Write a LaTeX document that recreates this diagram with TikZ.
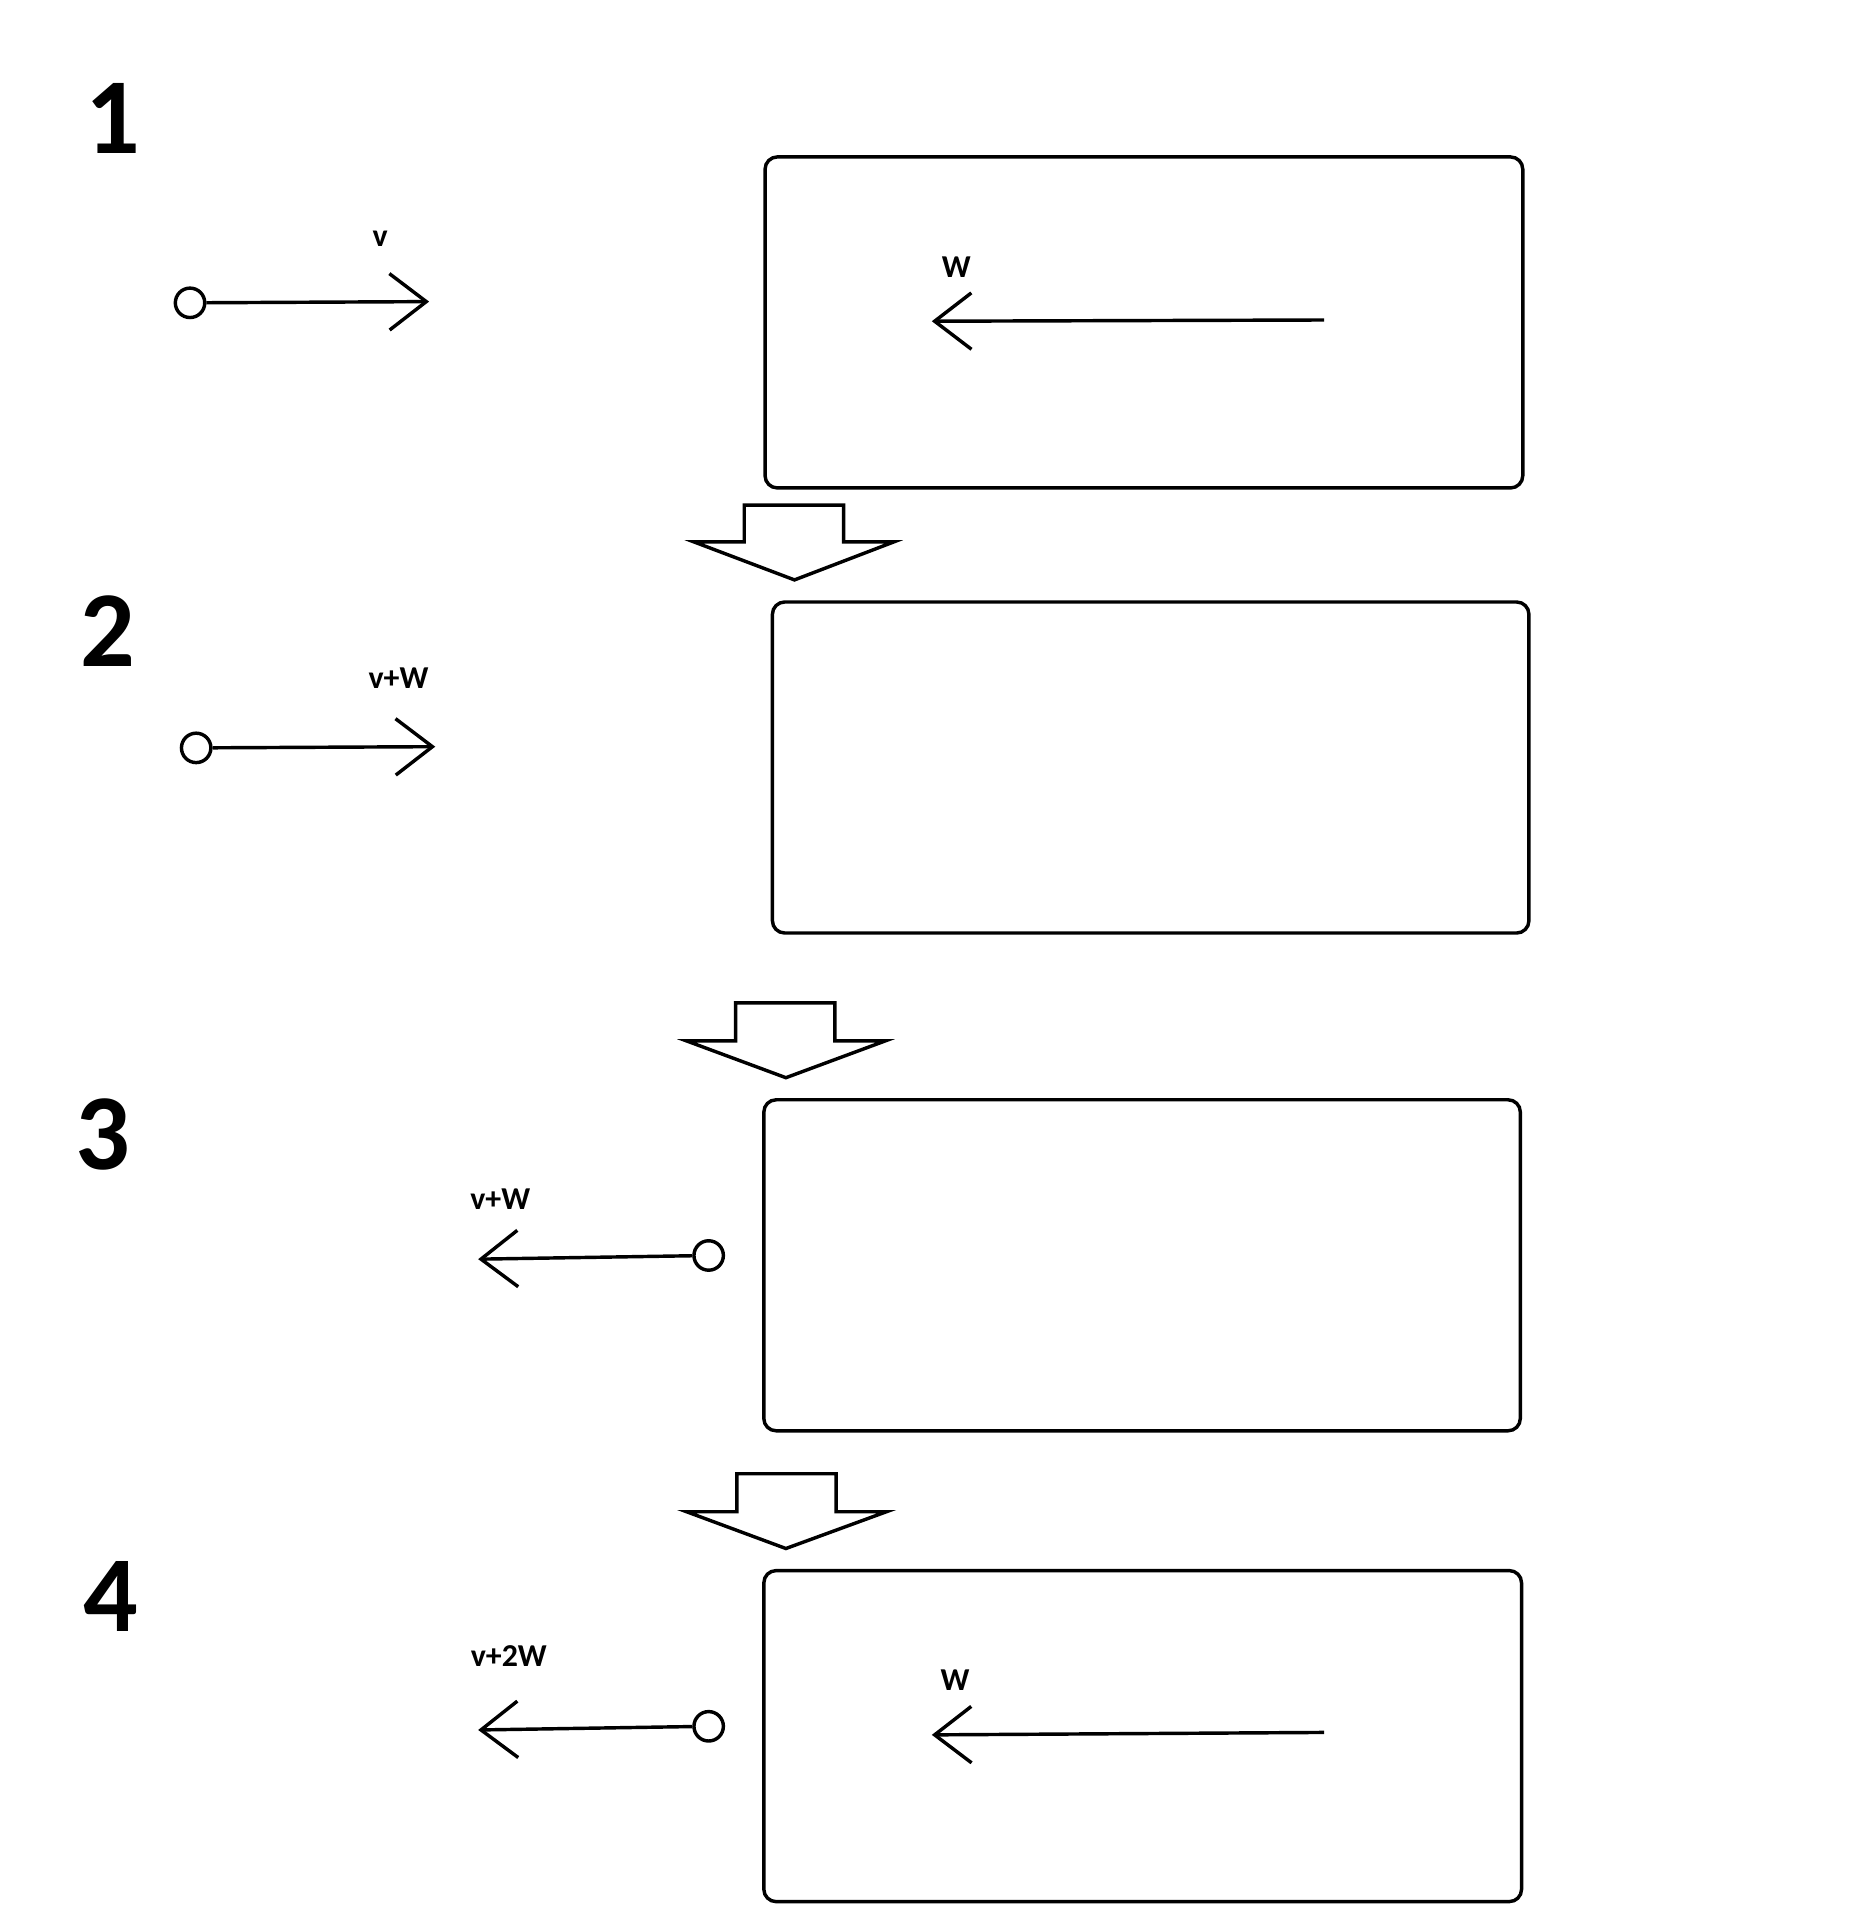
\documentclass[tikz,border=0pt]{standalone}
\usepackage{fontspec}
\setmainfont{Carlito}
\usetikzlibrary{arrows.meta}
\begin{document}
\begin{tikzpicture}[x=0.5pt,y=-0.5pt,line width=1.4pt,
  box/.style={draw,rounded corners=5pt},
  num/.style={font=\bfseries\fontsize{44}{50}\selectfont},
  lab/.style={font=\bfseries\fontsize{13}{15}\selectfont},
  pin/.style={draw,circle,minimum size=12pt,inner sep=0pt},
  vec/.style={-{Straight Barb[length=15pt,width=23pt,line width=1.4pt]}},
  blk/.style={draw,line width=1.4pt,line join=miter}]
\useasboundingbox (0,0) rectangle (1530,1566);
\node[num] (n1) at (92,97) {1};
\node[num] (n2) at (88,515) {2};
\node[num] (n3) at (84,925) {3};
\node[num] (n4) at (90,1302) {4};
\draw[box] (624,128) rectangle (1242,398);
\draw[box] (630,491) rectangle (1247,761);
\draw[box] (623,897) rectangle (1240,1167);
\draw[box] (623,1281) rectangle (1241,1551);
% v arrows
\node[pin] (p1) at (155,247) {};
\coordinate (e1) at (350,246);
\draw[vec] (p1) -- (e1);
\node[lab] (l1) at (310,195) {v};
\node[pin] (p2) at (160,610) {};
\coordinate (e2) at (355,609);
\draw[vec] (p2) -- (e2);
\node[lab] (l2) at (325,553) {v+W};
\node[pin] (p3) at (578,1024) {};
\coordinate (e3) at (390,1027);
\draw[vec] (p3) -- (e3);
\node[lab] (l3) at (408,978) {v+W};
\node[pin] (p4) at (578,1408) {};
\coordinate (e4) at (390,1411);
\draw[vec] (p4) -- (e4);
\node[lab] (l4) at (415,1351) {v+2W};
% W arrows
\coordinate (w1s) at (1080,261); \coordinate (w1e) at (760,262);
\draw[vec] (w1s) -- (w1e);
\node[lab] (lw1) at (780,218) {W};
\coordinate (w4s) at (1080,1413); \coordinate (w4e) at (760,1415);
\draw[vec] (w4s) -- (w4e);
\node[lab] (lw4) at (779,1370) {W};
% block arrows
\draw[blk] (607,412) -- (688,412) -- (688,442) -- (729,442) -- (648,473) -- (566,442) -- (607,442) -- cycle;
\draw[blk] (600,818) -- (681,818) -- (681,849) -- (722,849) -- (641,879) -- (560,849) -- (600,849) -- cycle;
\draw[blk] (601,1202) -- (682,1202) -- (682,1233) -- (723,1233) -- (641,1263) -- (560,1233) -- (601,1233) -- cycle;
\end{tikzpicture}
\end{document}
